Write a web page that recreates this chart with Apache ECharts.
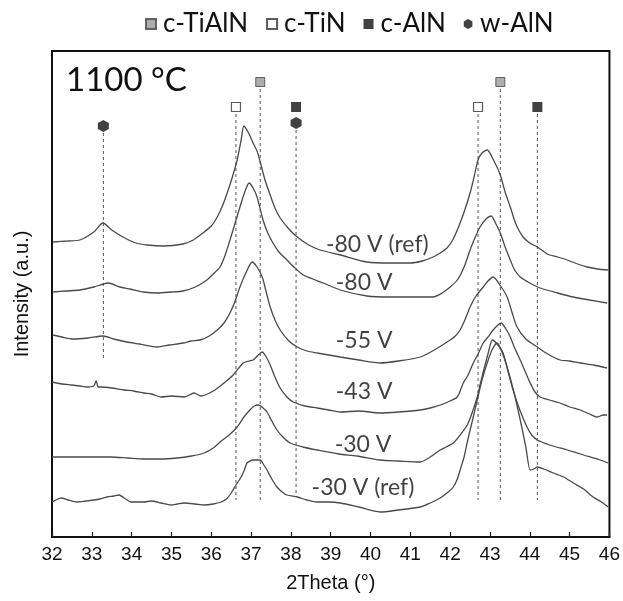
<!DOCTYPE html>
<html><head><meta charset="utf-8">
<script src="https://cdn.jsdelivr.net/npm/echarts@6/dist/echarts.min.js"></script>
<style>html,body{margin:0;padding:0;background:#fff}#c{width:623px;height:601px}</style>
</head><body><div id="c"></div>
<script>
// ---------- data (2Theta in degrees, intensity in a.u. with vertical offsets as plotted) ----------
const xMin = 32, xMax = 46, xStep = 1;
const yMin = 0, yMax = 486;
const titleText = '1100 °C';
const xName = '2Theta (°)';
const yName = 'Intensity (a.u.)';

const curveNames = ['-80 V (ref)', '-80 V', '-55 V', '-43 V', '-30 V', '-30 V (ref)'];

const curveM80ref = [[32.03,295],[32.4,296],[32.70,297],[33.05,305],[33.28,314],[33.5,307],[33.78,300],[34.1,294],[34.39,292],[34.8,291],[35.29,293],[35.55,297],[35.79,304],[36.0,311],[36.15,320],[36.28,331],[36.40,344],[36.53,360],[36.65,377],[36.75,397],[36.82,411],[36.95,403],[37.05,394],[37.15,386],[37.23,375],[37.35,357],[37.48,342],[37.6,329],[37.73,319],[37.95,308],[38.16,300],[38.45,292],[38.73,287],[39.24,282],[39.91,275],[40.5,274],[40.99,274],[41.3,276],[41.57,280],[41.75,284],[41.92,289],[42.05,296],[42.20,309],[42.35,325],[42.50,344],[42.60,360],[42.70,377],[42.80,384],[42.93,387],[43.1,376],[43.26,362],[43.38,345],[43.51,330],[43.65,313],[43.83,300],[44.0,294],[44.19,290],[44.44,283],[44.7,280],[44.94,277],[45.2,273],[45.44,270],[45.7,268],[45.97,267]];
const curveM80 = [[32.03,245],[32.35,246],[32.70,247],[33.05,250],[33.41,254],[33.7,250],[33.96,248],[34.3,245],[34.64,244],[35.0,245],[35.29,246],[35.6,250],[35.89,257],[36.05,263],[36.22,270],[36.35,282],[36.47,297],[36.6,314],[36.72,330],[36.85,346],[36.95,354],[37.05,349],[37.15,340],[37.30,317],[37.42,304],[37.55,294],[37.7,285],[37.90,277],[38.1,269],[38.31,262],[38.55,258],[38.81,254],[39.24,247],[39.91,241],[40.5,240],[40.99,240],[41.3,240],[41.57,240],[41.8,244],[42.00,250],[42.18,257],[42.35,270],[42.50,287],[42.62,299],[42.75,310],[42.9,318],[43.03,321],[43.15,313],[43.26,304],[43.38,290],[43.51,277],[43.62,267],[43.76,260],[44.0,254],[44.26,249],[44.7,244],[45.09,240],[45.5,237],[45.94,234]];
const curveM55 = [[32.03,202],[32.25,200],[32.53,198],[32.9,199],[33.28,201],[33.55,198],[33.88,195],[34.2,193],[34.64,190],[34.95,192],[35.29,194],[35.5,196],[35.72,197],[35.95,201],[36.15,207],[36.32,214],[36.47,224],[36.6,236],[36.72,250],[36.88,265],[37.03,275],[37.15,270],[37.28,260],[37.38,245],[37.48,230],[37.6,217],[37.73,207],[37.95,196],[38.16,190],[38.4,186],[38.66,184],[38.95,182],[39.24,180],[39.7,177],[40.24,174],[40.7,176],[41.25,180],[41.6,187],[42.00,197],[42.13,201],[42.25,207],[42.38,218],[42.50,230],[42.65,241],[42.83,250],[42.95,256],[43.08,260],[43.25,252],[43.43,240],[43.55,225],[43.68,210],[43.9,198],[44.19,190],[44.45,183],[44.76,177],[45.0,176],[45.27,174],[45.6,172],[45.94,169]];
const curveM43 = [[32.00,155],[32.25,153],[32.48,152],[32.7,151],[32.88,150],[33.05,151],[33.11,156],[33.16,150],[33.23,150],[33.5,149],[33.81,147],[34.05,146],[34.31,144],[34.5,143],[34.74,140],[35.0,141],[35.32,140],[35.57,144],[35.74,141],[36.05,146],[36.35,155],[36.55,162],[36.80,174],[36.95,176],[37.05,177],[37.18,182],[37.28,185],[37.38,180],[37.48,172],[37.6,160],[37.73,149],[37.9,140],[38.06,135],[38.35,131],[38.66,129],[38.95,127],[39.24,125],[39.7,126],[40.24,124],[40.7,125],[41.25,127],[41.5,129],[41.75,132],[42.0,136],[42.18,140],[42.33,154],[42.45,162],[42.58,174],[42.7,183],[42.83,194],[42.95,200],[43.08,207],[43.2,212],[43.28,214],[43.4,208],[43.51,200],[43.62,189],[43.76,177],[43.9,164],[44.01,154],[44.13,145],[44.26,140],[44.5,137],[44.76,134],[45.0,130],[45.27,127],[45.5,123],[45.69,120],[45.85,122],[45.94,122]];
const curveM30 = [[32.00,80],[32.5,80],[33.0,80],[33.48,80],[33.9,79],[34.31,78],[34.7,78],[35.14,79],[35.5,81],[35.82,84],[36.05,89],[36.22,95],[36.45,102],[36.65,110],[36.82,120],[36.97,127],[37.08,131],[37.18,132],[37.3,129],[37.40,125],[37.52,116],[37.65,107],[37.8,100],[37.98,94],[38.3,90],[38.66,87],[39.2,83],[39.66,81],[40.24,77],[40.7,76],[41.25,75],[41.5,80],[41.75,87],[41.9,90],[42.08,94],[42.25,102],[42.43,112],[42.55,124],[42.68,140],[42.75,152],[42.83,165],[42.95,183],[43.06,197],[43.2,192],[43.33,184],[43.45,166],[43.58,147],[43.75,127],[43.93,110],[44.05,102],[44.19,97],[44.5,92],[44.94,87],[45.35,82],[45.77,77],[45.97,74]];
const curveM30ref = [[32.00,35],[32.1,37],[32.23,39],[32.4,37],[32.63,35],[32.85,36],[33.06,37],[33.2,38],[33.38,40],[33.55,41],[33.68,42],[33.85,38],[33.98,35],[34.3,35],[34.5,36],[34.74,34],[34.99,32],[35.15,33],[35.32,34],[35.6,33],[35.82,32],[36.05,33],[36.25,35],[36.38,38],[36.50,44],[36.62,52],[36.75,60],[36.83,67],[36.90,74],[37.05,77],[37.23,77],[37.32,72],[37.40,67],[37.52,58],[37.65,50],[37.78,45],[37.90,42],[38.16,40],[38.4,37],[38.66,35],[38.95,35],[39.24,34],[39.7,30],[40.24,25],[40.7,27],[41.25,30],[41.5,34],[41.75,39],[41.95,45],[42.08,50],[42.18,58],[42.25,67],[42.35,80],[42.43,95],[42.55,115],[42.68,137],[42.8,157],[42.93,174],[43.05,187],[43.18,194],[43.3,185],[43.43,170],[43.6,145],[43.76,117],[43.9,90],[44.01,67],[44.1,68],[44.19,70],[44.35,68],[44.59,64],[44.85,60],[45.09,54],[45.35,48],[45.59,40],[45.8,35],[45.97,30]];

const curves = [curveM80ref, curveM80, curveM55, curveM43, curveM30, curveM30ref];

// phase reference positions (2Theta) and the heights of their symbols
const phaseNames = ['c-TiAlN', 'c-TiN', 'c-AlN', 'w-AlN'];
const phasePeaks = [[37.23, 43.26], [36.62, 42.70], [38.13, 44.19], [33.29, 38.13]];
const phaseLevels = [[455, 455], [430, 430], [430, 430], [411, 414]];
const phaseLineEnds = [[37, 37], [37, 37], [40, 37], [177, 40]];

// where each curve's label sits (2Theta, intensity)
const labelAt = [[40.17, 292], [39.84, 254], [39.84, 196], [39.84, 145], [39.81, 92], [39.81, 49]];

// ---------- styles ----------
const hexPath = 'path://M0,-10 L8.66,-5 L8.66,5 L0,10 L-8.66,5 L-8.66,-5 Z';
const phaseSymbols = ['rect', 'rect', 'rect', hexPath];
const phaseSizes = [9, 9, 10, [11, 12]];
const phaseStyles = [
  {color: '#9a9a9a', borderColor: '#444', borderWidth: 1},
  {color: '#ffffff', borderColor: '#333', borderWidth: 1.2},
  {color: '#111111', borderColor: '#111', borderWidth: 0},
  {color: '#111111', borderColor: '#111', borderWidth: 0}
];
const gillFont = 'Lato';
const arialFont = '"Liberation Sans", Arial, sans-serif';

// dashed drop lines: one per unique position
const drops = {};
phasePeaks.forEach((pk, i) => pk.forEach((x, j) => {
  const key = x.toFixed(2);
  const top = phaseLevels[i][j] - 7;
  const end = phaseLineEnds[i][j];
  if (!drops[key]) drops[key] = {x, top, end};
  else { drops[key].top = Math.min(drops[key].top, top); drops[key].end = Math.min(drops[key].end, end); }
}));
const dropData = [];
Object.values(drops).forEach(d => { dropData.push([d.x, d.top], [d.x, d.end], null); });

const series = [];
curves.forEach((c, i) => {
  series.push({
    type: 'line', name: curveNames[i], data: c, showSymbol: false, smooth: 0.25,
    lineStyle: {color: '#4a4a4a', width: 1.3}, z: 3, silent: true
  });
});
series.push({
  type: 'line', name: 'drops', data: dropData, showSymbol: false, connectNulls: false,
  lineStyle: {color: '#555', width: 1, type: [3, 3]}, z: 2, silent: true
});
phaseNames.forEach((n, i) => {
  series.push({
    type: 'scatter', name: n, symbol: phaseSymbols[i], symbolSize: phaseSizes[i],
    data: phasePeaks[i].map((x, j) => [x, phaseLevels[i][j]]),
    itemStyle: phaseStyles[i], z: 5, silent: true
  });
});
series.push({
  type: 'scatter', name: 'labels', symbolSize: 0, z: 6, silent: true,
  data: labelAt.map((p, i) => ({value: p, name: curveNames[i]})),
  label: {show: true, position: 'inside', formatter: p => p.name,
    fontFamily: gillFont, fontSize: 23, color: '#111'}
});

const chart = echarts.init(document.getElementById('c'), null, {renderer: 'canvas'});
chart.setOption({
  animation: false,
  backgroundColor: '#fff',
  legend: {
    data: phaseNames, top: 6, left: 140, itemWidth: 10, itemHeight: 10, itemGap: 18,
    textStyle: {fontFamily: gillFont, fontSize: 26, color: '#111', padding: [0, 0, 0, 2]},
    selectedMode: false
  },
  graphic: [{
    type: 'text', left: 66, top: 64,
    style: {text: titleText, font: '33px Lato', fill: '#111'}
  }],
  grid: {left: 52, right: 13, top: 51, bottom: 64, show: true, borderColor: '#111', borderWidth: 2, backgroundColor: 'transparent'},
  xAxis: {
    type: 'value', min: xMin, max: xMax, interval: xStep,
    name: xName, nameLocation: 'middle', nameGap: 36,
    nameTextStyle: {fontFamily: arialFont, fontSize: 20, color: '#111'},
    axisLine: {show: true, lineStyle: {color: '#111', width: 2}},
    axisTick: {show: true, inside: true, length: 5, lineStyle: {color: '#222', width: 1.2}},
    axisLabel: {fontFamily: arialFont, fontSize: 19, color: '#111', margin: 8},
    splitLine: {show: false}
  },
  yAxis: {
    type: 'value', min: yMin, max: yMax,
    name: yName, nameLocation: 'middle', nameGap: 20, nameRotate: 90,
    nameTextStyle: {fontFamily: arialFont, fontSize: 20, color: '#111'},
    axisLine: {show: true, lineStyle: {color: '#111', width: 2}},
    axisTick: {show: false}, axisLabel: {show: false}, splitLine: {show: false}
  },
  series
});
</script>
</body></html>
